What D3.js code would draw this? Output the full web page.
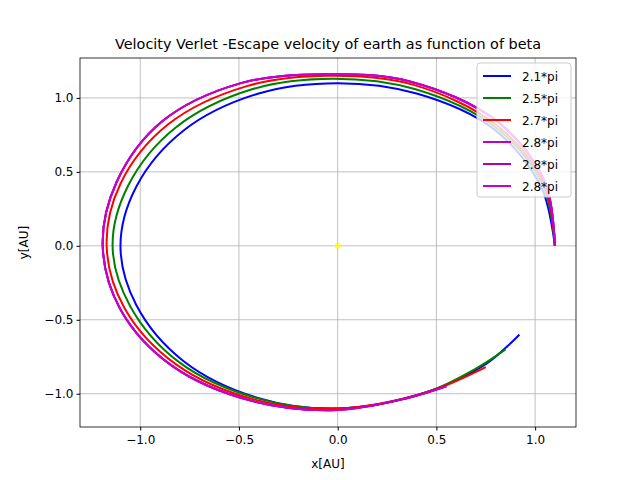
<!DOCTYPE html>
<html><head><meta charset="UTF-8">
<script src="https://d3js.org/d3.v7.min.js"></script>
<style>body{margin:0;background:#fff;font-family:"DejaVu Sans",sans-serif;}</style>
</head><body><div id="chart"></div>
<script>
var labels = ["2.1*pi","2.5*pi","2.7*pi","2.8*pi","2.8*pi","2.8*pi"];
var colors = ["#0000ff","#008000","#ff0000","#bf00bf","#b000b8","#c800c8"];
var orbitBlue = [[1.1,0],[1.03,0.4],[0.79,0.79],[0.4,1.03],[0,1.1],[-0.4,1.03],[-0.78,0.78],[-1.02,0.4],[-1.1,0],[-1.02,-0.4],[-0.78,-0.78],[-0.4,-1.03],[0,-1.1],[0.45,-0.99],[0.75,-0.8],[0.92,-0.6]];
var orbitGreen = [[1.1,0],[1.04,0.41],[0.8,0.8],[0.39,1.06],[-0.02,1.13],[-0.43,1.06],[-0.82,0.8],[-1.06,0.41],[-1.14,0],[-1.05,-0.41],[-0.8,-0.79],[-0.41,-1.03],[0,-1.1],[0.45,-0.99],[0.7,-0.83],[0.85,-0.7]];
var orbitRed = [[1.1,0],[1.045,0.42],[0.8,0.82],[0.38,1.09],[-0.04,1.15],[-0.46,1.08],[-0.86,0.82],[-1.1,0.42],[-1.17,0],[-1.08,-0.42],[-0.82,-0.8],[-0.42,-1.04],[0,-1.1],[0.45,-0.99],[0.75,-0.82]];
var orbitMag = [[1.1,0],[1.05,0.43],[0.81,0.84],[0.37,1.11],[-0.06,1.16],[-0.49,1.1],[-0.89,0.84],[-1.12,0.43],[-1.19,0],[-1.1,-0.43],[-0.84,-0.81],[-0.43,-1.05],[0,-1.11],[0.35,-1.03],[0.55,-0.95]];
var series = [orbitBlue, orbitGreen, orbitRed, orbitMag, orbitMag, orbitMag];
var xTicks = [-1.0,-0.5,0.0,0.5,1.0];
var yTicks = [-1.0,-0.5,0.0,0.5,1.0];

var W = 640, H = 480, m = {l:80, r:64, t:58, b:53};
var svg = d3.select("#chart").append("svg").attr("width", W).attr("height", H);
var x = d3.scaleLinear().domain([-1.305, 1.207]).range([m.l, W - m.r]);
var y = d3.scaleLinear().domain([-1.225, 1.27]).range([H - m.b, m.t]);
var fmt = function(d){ return (d < 0 ? "\u2212" : "") + Math.abs(d).toFixed(1); };

svg.append("g").selectAll("line").data(xTicks).enter().append("line")
  .attr("x1", x).attr("x2", x).attr("y1", m.t).attr("y2", H - m.b).attr("stroke", "#b0b0b0").attr("stroke-width", 0.8);
svg.append("g").selectAll("line").data(yTicks).enter().append("line")
  .attr("y1", y).attr("y2", y).attr("x1", m.l).attr("x2", W - m.r).attr("stroke", "#b0b0b0").attr("stroke-width", 0.8);

var line = d3.line().x(function(d){ return x(d[0]); }).y(function(d){ return y(d[1]); }).curve(d3.curveCatmullRom);
series.forEach(function(s, i){
  svg.append("path").attr("d", line(s)).attr("fill", "none").attr("stroke", colors[i]).attr("stroke-width", 2);
});
svg.append("circle").attr("cx", x(0)).attr("cy", y(0)).attr("r", 3).attr("fill", "#ffff00").attr("opacity", 0.8);

svg.append("g").attr("transform", "translate(0," + (H - m.b) + ")")
  .call(d3.axisBottom(x).tickValues(xTicks).tickFormat(fmt).tickSizeOuter(0).tickSize(3.5))
  .call(function(g){ g.selectAll("text").attr("font-size", 12).attr("font-family", "DejaVu Sans").attr("dy", "0.9em"); g.select(".domain").remove(); });
svg.append("g").attr("transform", "translate(" + m.l + ",0)")
  .call(d3.axisLeft(y).tickValues(yTicks).tickFormat(fmt).tickSizeOuter(0).tickSize(3.5))
  .call(function(g){ g.selectAll("text").attr("font-size", 12).attr("font-family", "DejaVu Sans"); g.select(".domain").remove(); });
svg.append("rect").attr("x", m.l).attr("y", m.t).attr("width", W - m.l - m.r).attr("height", H - m.t - m.b)
  .attr("fill", "none").attr("stroke", "#000").attr("stroke-width", 0.8);

svg.append("text").attr("x", (m.l + W - m.r) / 2).attr("y", 49).attr("text-anchor", "middle").attr("font-size", 14.4).text("Velocity Verlet -Escape velocity of earth as function of beta");
svg.append("text").attr("x", (m.l + W - m.r) / 2).attr("y", 468).attr("text-anchor", "middle").attr("font-size", 12).text("x[AU]");
svg.append("text").attr("transform", "translate(28," + ((m.t + H - m.b) / 2) + ") rotate(-90)").attr("text-anchor", "middle").attr("font-size", 12).text("y[AU]");

var lg = svg.append("g").attr("transform", "translate(477,63)");
lg.append("rect").attr("width", 94).attr("height", 134).attr("rx", 3).attr("fill", "#fff").attr("fill-opacity", 0.8).attr("stroke", "#ccc");
labels.forEach(function(l, i){
  var yy = 13 + i * 22;
  lg.append("line").attr("x1", 6).attr("x2", 34).attr("y1", yy).attr("y2", yy).attr("stroke", colors[i]).attr("stroke-width", 2);
  lg.append("text").attr("x", 45).attr("y", yy + 4.5).attr("font-size", 12).text(l);
});
</script></body></html>
